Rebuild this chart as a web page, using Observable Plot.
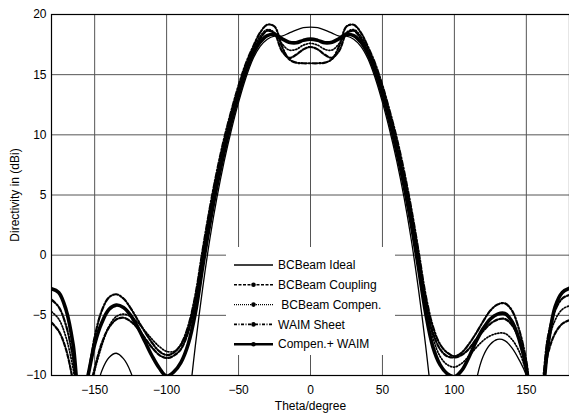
<!DOCTYPE html>
<html>
<head>
<meta charset="utf-8">
<script src="https://cdn.jsdelivr.net/npm/d3@7"></script>
<script src="https://cdn.jsdelivr.net/npm/@observablehq/plot@0.6"></script>
<style>
  html, body { margin: 0; padding: 0; background: #fff; }
  #wrap { position: relative; width: 569px; height: 416px; font-family: "Liberation Sans", Arial, sans-serif; }
  #legend { position: absolute; left: 226px; top: 247px; width: 169px; height: 108px; background: #fff; }
  #legend text { font-family: "Liberation Sans", Arial, sans-serif; font-size: 12px; white-space: pre; }
</style>
</head>
<body>
<div id="wrap"></div>
<script>
// Angle samples (degrees)
const theta = [-180,-175,-170,-165,-160,-155,-150,-145,-140,-135,-130,-125,-120,-115,-110,-105,-100,-95,-90,-85,-80,-75,-70,-65,-60,-55,-50,-45,-40,-35,-30,-25,-20,-15,-10,-5,0,5,10,15,20,25,30,35,40,45,50,55,60,65,70,75,80,85,90,95,100,105,110,115,120,125,130,135,140,145,150,155,160,165,170,175,180];

const bcIdeal = [-24,-24,-24,-24,-22,-16,-12,-9.6,-8.5,-8.15,-8.6,-9.7,-11.8,-15,-20,-24,-25,-24,-20,-13,-7.5,-2.8,1.3,4.8,7.8,10.4,12.7,14.7,16.3,17.35,17.95,18.2,18.2,18.45,18.7,18.9,18.95,18.9,18.7,18.45,18.2,18.2,17.95,17.35,16.3,14.7,12.7,10.4,7.8,4.8,1.3,-2.8,-7.5,-13,-20,-24,-25,-23,-16,-10.6,-8.4,-7.4,-7.0,-7.1,-7.7,-8.7,-10.0,-13.5,-20,-24,-24,-24,-24];

const bcCoupling = [-5.6,-6.3,-7.8,-10.5,-14,-12,-9.4,-7.3,-6.0,-5.35,-5.2,-5.5,-6.1,-6.9,-7.7,-8.3,-8.55,-8.35,-7.8,-6.4,-3.9,-0.3,3.2,6.3,9.0,11.5,13.6,15.5,16.9,18.0,18.65,18.4,17.0,16.4,16.65,17.1,17.3,17.1,16.65,16.4,17.0,18.4,18.65,18.0,16.9,15.5,13.6,11.5,9.0,6.3,3.2,-0.3,-3.9,-6.4,-7.8,-8.4,-8.5,-8.3,-7.8,-7.0,-6.3,-5.7,-5.35,-5.3,-5.8,-7.0,-9.5,-13,-12,-8.2,-6.5,-5.7,-5.4];

const bcCompen = [-4.7,-5.3,-6.8,-9.4,-13,-12,-9.6,-7.5,-5.9,-5.1,-4.9,-5.1,-5.6,-6.3,-7.0,-7.6,-8.0,-8.0,-7.5,-6.2,-3.8,0.0,3.5,6.6,9.3,11.7,13.8,15.7,17.1,18.2,18.75,18.5,17.6,17.05,17.1,17.45,17.6,17.45,17.1,17.05,17.6,18.5,18.75,18.2,17.1,15.7,13.8,11.7,9.3,6.6,3.5,0.0,-3.8,-6.8,-8.4,-9.1,-9.3,-9.0,-8.4,-7.7,-7.1,-6.7,-6.5,-6.5,-7.0,-8.0,-9.8,-13,-12,-7.4,-5.4,-4.5,-4.2];

const waimSheet = [-3.7,-4.3,-5.8,-8.6,-13,-10.3,-6.8,-4.6,-3.5,-3.25,-3.6,-4.4,-5.4,-6.4,-7.3,-8.0,-8.3,-8.1,-7.4,-5.9,-3.3,0.4,3.9,7.0,9.7,12.0,14.1,15.9,17.3,18.5,19.15,19.0,17.4,16.3,16.0,15.95,15.95,15.95,16.0,16.3,17.4,19.0,19.15,18.5,17.3,15.9,14.1,12.0,9.7,7.0,3.9,0.4,-3.3,-5.9,-7.4,-8.1,-8.4,-8.1,-7.4,-6.5,-5.5,-4.6,-4.1,-4.0,-4.6,-6.2,-8.8,-13,-11.5,-6.8,-4.6,-3.6,-3.3];

const compenWaim = [-2.8,-3.1,-4.5,-7.4,-12.5,-10.2,-7.4,-5.6,-4.5,-4.15,-4.35,-5.0,-6.0,-7.2,-8.4,-9.4,-10.05,-9.7,-8.9,-7.4,-4.8,-1.0,2.6,5.8,8.6,11.1,13.3,15.2,16.7,17.7,18.25,18.35,18.0,17.7,17.65,17.85,17.95,17.85,17.65,17.7,18.0,18.35,18.25,17.7,16.7,15.2,13.3,11.1,8.6,5.8,2.6,-1.0,-4.8,-7.6,-9.1,-9.85,-10.1,-9.6,-8.5,-7.2,-6.1,-5.3,-4.9,-4.85,-5.5,-7.0,-9.4,-14,-12.5,-7.5,-4.3,-3.1,-2.75];

const seriesNames = ["BCBeam Ideal", "BCBeam Coupling", " BCBeam Compen.", "WAIM Sheet", "Compen.+ WAIM"];
const xTicks = [-150, -100, -50, 0, 50, 100, 150];
const yTicks = [-10, -5, 0, 5, 10, 15, 20];

const toRows = (vals) => theta.map((t, i) => ({theta: t, value: vals[i]}));

const lineOpts = {x: "theta", y: "value", curve: "catmull-rom", clip: true, stroke: "black"};

const chart = Plot.plot({
  width: 569,
  height: 416,
  marginLeft: 51,
  marginRight: 0,
  marginTop: 14,
  marginBottom: 41,
  style: {fontFamily: "'Liberation Sans', Arial, sans-serif", fontSize: "12px", background: "white", color: "black"},
  x: {domain: [-180, 180]},
  y: {domain: [-10, 20]},
  marks: [
    Plot.gridX(xTicks, {stroke: "#555", strokeOpacity: 1, strokeWidth: 1}),
    Plot.gridY(yTicks, {stroke: "#555", strokeOpacity: 1, strokeWidth: 1}),
    Plot.line(toRows(bcIdeal), {...lineOpts, strokeWidth: 1.3}),
    Plot.line(toRows(bcCoupling), {...lineOpts, strokeWidth: 2.2, strokeDasharray: "4,2"}),
    Plot.line(toRows(bcCompen), {...lineOpts, strokeWidth: 1.7, strokeDasharray: "1.2,1.8"}),
    Plot.line(toRows(waimSheet), {...lineOpts, strokeWidth: 2.2, strokeDasharray: "5,2,1.5,2"}),
    Plot.line(toRows(compenWaim), {...lineOpts, strokeWidth: 3.6}),
    Plot.frame({stroke: "black", strokeWidth: 1.2}),
    Plot.axisX({ticks: xTicks, tickSize: 0, tickPadding: 10, fontSize: 12, label: "Theta/degree", labelAnchor: "center", labelArrow: "none", labelOffset: 34}),
    Plot.axisY({ticks: yTicks, tickSize: 0, tickPadding: 5, fontSize: 12, label: "Directivity in (dBi)", labelAnchor: "center", labelArrow: "none", labelOffset: 41})
  ]
});

const wrap = document.getElementById("wrap");
wrap.appendChild(chart);

// Legend
const ns = "http://www.w3.org/2000/svg";
const leg = document.createElementNS(ns, "svg");
leg.setAttribute("id", "legend");
leg.setAttribute("width", 169);
leg.setAttribute("height", 108);
const styles = [
  {w: 1.6, dash: null, dot: false},
  {w: 1.6, dash: "3,1.5", dot: true},
  {w: 1.3, dash: "1,1", dot: true},
  {w: 1.6, dash: "3,1.5,1,1.5", dot: true},
  {w: 2.4, dash: null, dot: true}
];
seriesNames.forEach((name, i) => {
  const cy = 18 + i * 19.8;
  const ln = document.createElementNS(ns, "line");
  ln.setAttribute("x1", 8); ln.setAttribute("x2", 47);
  ln.setAttribute("y1", cy); ln.setAttribute("y2", cy);
  ln.setAttribute("stroke", "black");
  ln.setAttribute("stroke-width", styles[i].w);
  if (styles[i].dash) ln.setAttribute("stroke-dasharray", styles[i].dash);
  leg.appendChild(ln);
  if (styles[i].dot) {
    const c = document.createElementNS(ns, "circle");
    c.setAttribute("cx", 27.5); c.setAttribute("cy", cy); c.setAttribute("r", 2.3);
    c.setAttribute("fill", "black");
    leg.appendChild(c);
  }
  const tx = document.createElementNS(ns, "text");
  tx.setAttribute("x", 52); tx.setAttribute("y", cy);
  tx.setAttribute("dy", "0.35em");
  tx.textContent = name;
  leg.appendChild(tx);
});
wrap.appendChild(leg);
</script>
</body>
</html>
